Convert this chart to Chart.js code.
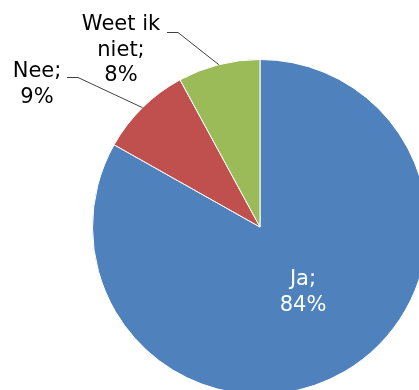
<!doctype html>
<html>
  <head>
    <title>Pie</title>
    <script src="https://cdn.jsdelivr.net/npm/chart.js@4"></script>
    <style>
      body { margin: 0; overflow: hidden; background: #fff; }
      #pieChart { position: absolute; left: 0; top: 0; }
    </style>
  </head>
  <body>
    <canvas id="pieChart" width="440" height="400"></canvas>
    <script>
      // data
      var categories = ["Ja", "Nee", "Weet ik niet"];
      var percentages = [84, 9, 8];
      var colors = ["#4F81BD", "#C0504D", "#9BBB59"];

      // label text lines per slice
      var labelLines = [
        ["Ja;", percentages[0] + "%"],
        ["Nee;", percentages[1] + "%"],
        ["Weet ik", "niet;", percentages[2] + "%"],
      ];
      // where each label block sits (centre x, first baseline y), leader or not
      var labelPos = [
        { x: 303, y: 285, color: "#fff", leader: false },
        { x: 37, y: 77, color: "#000", leader: true, lineStart: 67, lineY: 77 },
        { x: 121, y: 30, color: "#000", leader: true, lineStart: 167, lineY: 32 },
      ];

      var pieLabels = {
        id: "pieLabels",
        afterDatasetsDraw: function (chart) {
          var ctx = chart.ctx;
          var meta = chart.getDatasetMeta(0);
          ctx.save();
          ctx.font = "21px 'DejaVu Sans'";
          ctx.textAlign = "center";
          ctx.textBaseline = "alphabetic";
          meta.data.forEach(function (arc, i) {
            var p = labelPos[i];
            if (p.leader) {
              var mid = (arc.startAngle + arc.endAngle) / 2;
              var ex = arc.x + Math.cos(mid) * arc.outerRadius;
              var ey = arc.y + Math.sin(mid) * arc.outerRadius;
              ctx.strokeStyle = "#404040";
              ctx.lineWidth = 1;
              ctx.beginPath();
              ctx.moveTo(p.lineStart, p.lineY + 0.5);
              ctx.lineTo(p.lineStart + 11, p.lineY + 0.5);
              ctx.lineTo(ex, ey);
              ctx.stroke();
            }
            ctx.fillStyle = p.color;
            labelLines[i].forEach(function (line, j) {
              ctx.fillText(line, p.x, p.y + j * 25.5);
            });
          });
          ctx.restore();
        },
      };

      var ctx = document.getElementById("pieChart").getContext("2d");
      var pieChart = new Chart(ctx, {
        type: "pie",
        data: {
          labels: categories,
          datasets: [
            {
              data: percentages,
              backgroundColor: colors,
              borderColor: "#fff",
              borderWidth: 1,
            },
          ],
        },
        options: {
          responsive: false,
          animation: false,
          layout: {
            padding: { left: 92, top: 59, right: 12, bottom: 5 },
          },
          plugins: {
            legend: { display: false },
            tooltip: { enabled: false },
          },
        },
        plugins: [pieLabels],
      });
    </script>
  </body>
</html>
